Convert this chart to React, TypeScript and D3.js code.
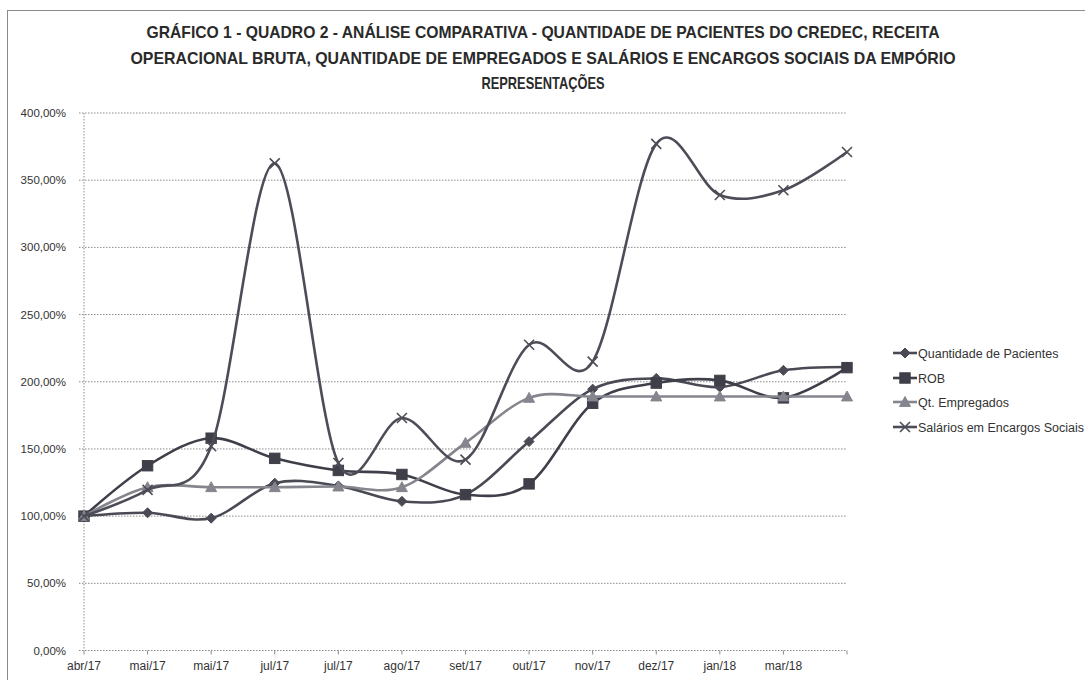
import React from "react";
import * as d3 from "d3";

const categories = ["abr/17", "mai/17", "mai/17", "jul/17", "jul/17", "ago/17", "set/17", "out/17", "nov/17", "dez/17", "jan/18", "mar/18", ""];
const pacientes = [100, 102.5, 98.5, 124.5, 122.5, 111, 116, 155.5, 194.5, 202.5, 196, 208.5, 211];
const rob = [100, 137.5, 158, 143, 134, 131, 116, 124, 184, 199, 201, 188, 210.5];
const empregados = [100, 121.5, 121.5, 121.5, 122, 121.5, 154.5, 188, 189, 189, 189, 189, 189];
const salarios = [100, 119.5, 152, 362.5, 139.5, 173, 142, 227.5, 215, 377, 339, 342.5, 371];
const yTicks = [0, 50, 100, 150, 200, 250, 300, 350, 400];
const titleLines = [
  "GRÁFICO 1 - QUADRO 2 - ANÁLISE COMPARATIVA - QUANTIDADE DE PACIENTES DO CREDEC, RECEITA",
  "OPERACIONAL BRUTA, QUANTIDADE DE EMPREGADOS E SALÁRIOS E ENCARGOS SOCIAIS DA EMPÓRIO",
  "REPRESENTAÇÕES",
];
const seriesNames = ["Quantidade de Pacientes", "ROB", "Qt. Empregados", "Salários em Encargos Sociais"];

const FONT = "'Liberation Sans', Arial, sans-serif";

function Marker({ kind, x, y, color }: { kind: string; x: number; y: number; color: string }) {
  if (kind === "diamond") {
    const s = 5;
    return <path d={`M${x},${y - s}L${x + s},${y}L${x},${y + s}L${x - s},${y}Z`} fill={color} stroke={color} strokeWidth={1} />;
  }
  if (kind === "square") {
    const s = 5.2;
    return <rect x={x - s} y={y - s} width={2 * s} height={2 * s} fill={color} stroke={color} strokeWidth={1} />;
  }
  if (kind === "triangle") {
    const s = 5.5;
    return <path d={`M${x},${y - s}L${x + s},${y + s * 0.8}L${x - s},${y + s * 0.8}Z`} fill={color} stroke={color} strokeWidth={1} />;
  }
  const s = 5;
  return <path d={`M${x - s},${y - s}L${x + s},${y + s}M${x + s},${y - s}L${x - s},${y + s}`} stroke={color} strokeWidth={1.6} fill="none" />;
}

export default function App() {
  const x = d3.scaleLinear().domain([0, categories.length - 1]).range([84, 847]);
  const y = d3.scaleLinear().domain([0, 400]).range([650.5, 113]);

  const series = [
    { name: seriesNames[0], values: pacientes, color: "#4a4a55", marker: "diamond" },
    { name: seriesNames[1], values: rob, color: "#3f3f4a", marker: "square" },
    { name: seriesNames[2], values: empregados, color: "#85858d", marker: "triangle" },
    { name: seriesNames[3], values: salarios, color: "#4d4d58", marker: "x" },
  ];

  const line = d3
    .line<number>()
    .x((_, i) => x(i))
    .y((d) => y(d))
    .curve(d3.curveCardinal.tension(0));

  const titleWidths = [793, 825, 123];
  const titleY = [38, 64, 89];
  const legendY = [353, 378, 402, 427];

  return (
    <svg width={1085} height={680} style={{ position: "absolute", left: 0, top: 0, background: "#fff" }}>
      <rect x={0} y={0} width={1085} height={680} fill="#fff" />
      <rect x={7.5} y={10.5} width={1100} height={700} fill="none" stroke="#8a8a8a" strokeWidth={1} />
      {titleLines.map((t, i) => (
        <text
          key={i}
          x={543}
          y={titleY[i]}
          textAnchor="middle"
          fontFamily={FONT}
          fontWeight="bold"
          fontSize={17}
          fill="#2a2a2a"
          textLength={titleWidths[i]}
          lengthAdjust="spacingAndGlyphs"
        >
          {t}
        </text>
      ))}
      {yTicks.map((t) => (
        <g key={t}>
          <line x1={79} x2={847} y1={y(t)} y2={y(t)} stroke="#8a8a8a" strokeWidth={1} strokeDasharray="1.5,1.5" />
          <text x={66} y={y(t) + 4} textAnchor="end" fontFamily={FONT} fontSize={11.5} fill="#333">
            {d3.format(".2f")(t).replace(".", ",") + "%"}
          </text>
        </g>
      ))}
      <line x1={84} x2={84} y1={y(400)} y2={y(0)} stroke="#8a8a8a" strokeWidth={1} strokeDasharray="1.5,1.5" />
      {categories.map((c, i) => (
        <g key={i}>
          <line x1={x(i)} x2={x(i)} y1={y(0)} y2={y(0) + 4} stroke="#8a8a8a" strokeWidth={1} />
          <text x={x(i)} y={y(0) + 19} textAnchor="middle" fontFamily={FONT} fontSize={12} fill="#333">
            {c}
          </text>
        </g>
      ))}
      {series.map((s) => (
        <g key={s.name}>
          <path d={line(s.values) || ""} fill="none" stroke={s.color} strokeWidth={2.6} />
          {s.values.map((v, i) => (
            <Marker key={i} kind={s.marker} x={x(i)} y={y(v)} color={s.color} />
          ))}
        </g>
      ))}
      {series.map((s, i) => (
        <g key={"lg" + i}>
          <line x1={893} x2={917} y1={legendY[i]} y2={legendY[i]} stroke={s.color} strokeWidth={2.6} />
          <Marker kind={s.marker} x={905} y={legendY[i]} color={s.color} />
          <text x={918} y={legendY[i] + 4.5} fontFamily={FONT} fontSize={12.5} fill="#333">
            {s.name}
          </text>
        </g>
      ))}
    </svg>
  );
}
